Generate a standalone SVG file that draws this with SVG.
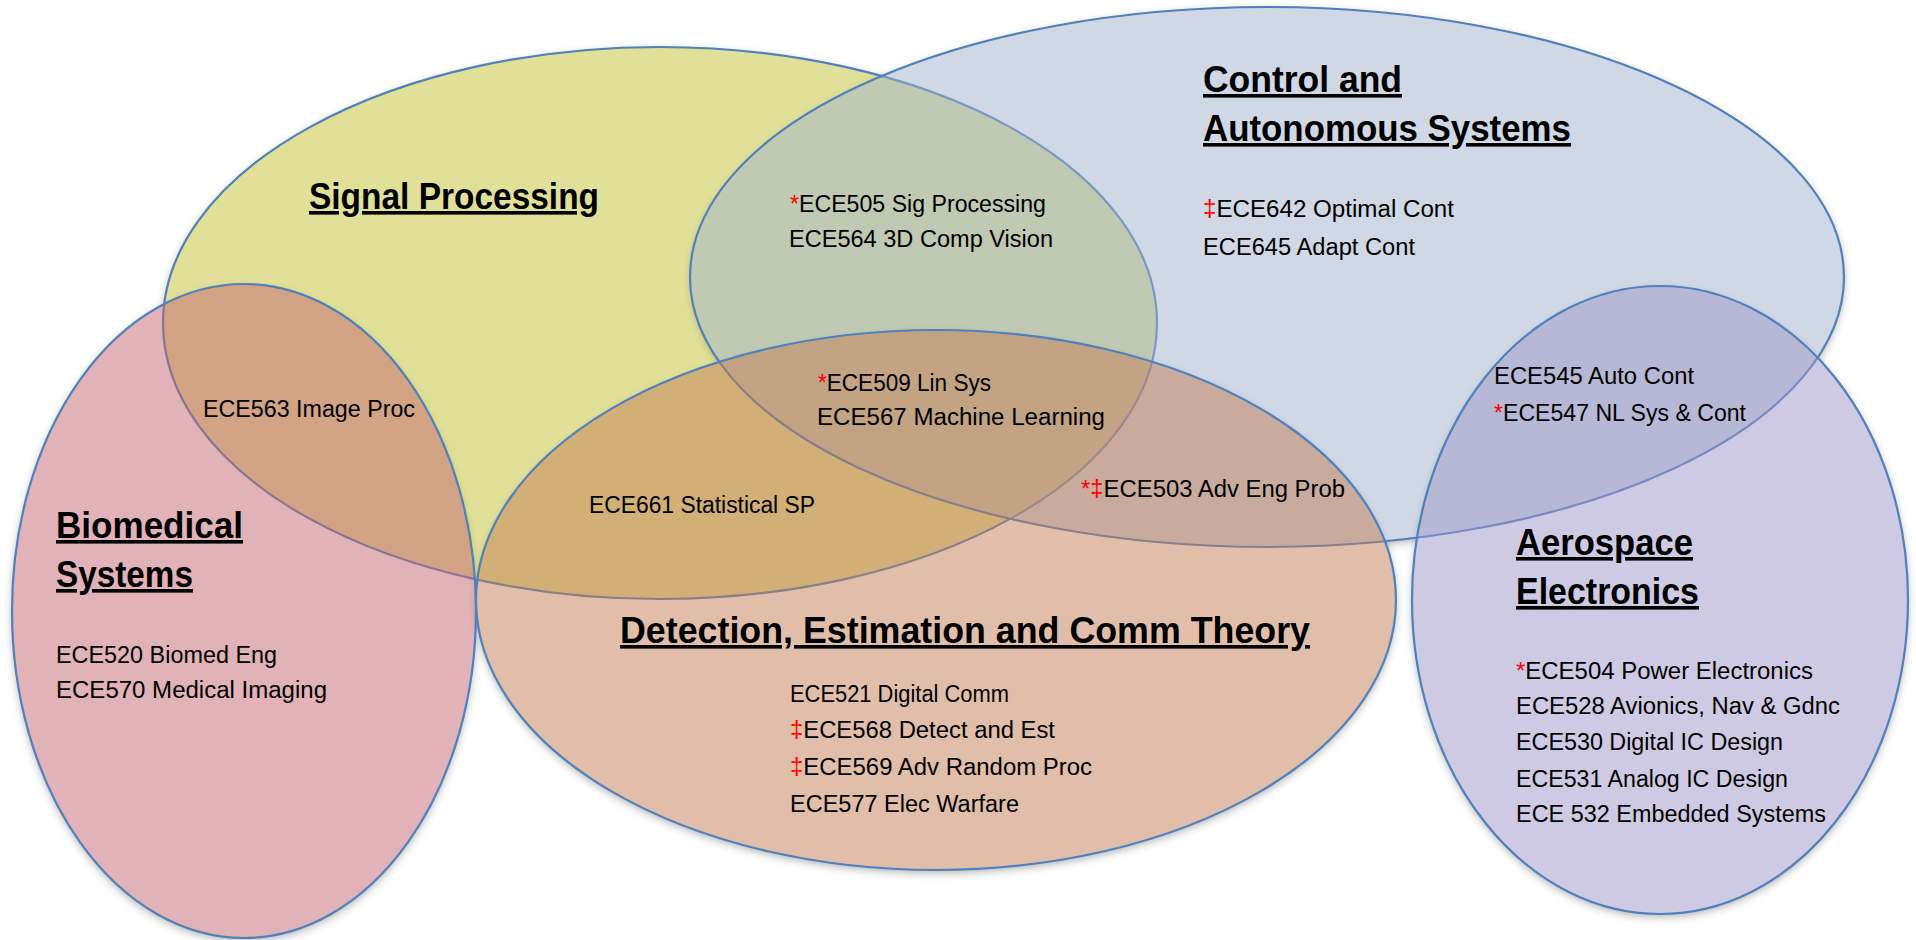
<svg xmlns="http://www.w3.org/2000/svg" width="1916" height="940" viewBox="0 0 1916 940">
  <defs>
    <filter id="soft-shadow" x="-10%" y="-10%" width="120%" height="125%">
      <feDropShadow dx="0" dy="3" stdDeviation="4" flood-color="#000000" flood-opacity="0.3"/>
    </filter>
    <style>
      .area { stroke: #4F81BD; stroke-width: 2.2; fill-opacity: 0.5; }
      .base { fill: #ffffff; stroke: none; filter: url(#soft-shadow); }
      .title { font-family: "Liberation Sans", Arial, sans-serif; font-weight: bold; font-size: 36px; fill: #000000; text-decoration: underline; }
      .item { font-family: "Liberation Sans", Arial, sans-serif; font-size: 23px; fill: #000000; }
      .mark { fill: #FF0000; }
    </style>
  </defs>

  <rect x="0" y="0" width="1916" height="940" fill="#ffffff"/>

  <!-- white bases carrying the soft outer shadow -->
  <g id="shadows">
    <ellipse class="base" cx="660" cy="323" rx="497" ry="276"/>
    <ellipse class="base" cx="1267" cy="277" rx="577" ry="270"/>
    <ellipse class="base" cx="244" cy="611" rx="232" ry="327"/>
    <ellipse class="base" cx="936" cy="600" rx="460" ry="270"/>
    <ellipse class="base" cx="1660" cy="600" rx="248" ry="314"/>
  </g>

  <!-- translucent topic areas, drawn bottom to top -->
  <g id="signal-processing">
    <ellipse class="area" cx="660" cy="323" rx="497" ry="276" fill="#C3C131"/>
  </g>
  <g id="control-autonomous">
    <ellipse class="area" cx="1267" cy="277" rx="577" ry="270" fill="#9FB1C9"/>
  </g>
  <g id="biomedical">
    <ellipse class="area" cx="244" cy="611" rx="232" ry="327" fill="#C3656F"/>
  </g>
  <g id="detection-estimation">
    <ellipse class="area" cx="936" cy="600" rx="460" ry="270" fill="#C37D55"/>
  </g>
  <g id="aerospace">
    <ellipse class="area" cx="1660" cy="600" rx="248" ry="314" fill="#9F95C7"/>
  </g>

  <!-- headings -->
  <g id="titles">
    <text class="title" x="309" y="209" textLength="290" lengthAdjust="spacingAndGlyphs">Signal Processing</text>
    <text class="title" x="1203" y="92" textLength="199" lengthAdjust="spacingAndGlyphs">Control and</text>
    <text class="title" x="1203" y="141" textLength="368" lengthAdjust="spacingAndGlyphs">Autonomous Systems</text>
    <text class="title" x="56" y="538" textLength="187" lengthAdjust="spacingAndGlyphs">Biomedical</text>
    <text class="title" x="56" y="587" textLength="137" lengthAdjust="spacingAndGlyphs">Systems</text>
    <text class="title" x="620" y="643" textLength="690" lengthAdjust="spacingAndGlyphs">Detection, Estimation and Comm Theory</text>
    <text class="title" x="1516" y="555" textLength="177" lengthAdjust="spacingAndGlyphs">Aerospace</text>
    <text class="title" x="1516" y="604" textLength="183" lengthAdjust="spacingAndGlyphs">Electronics</text>
  </g>

  <!-- course lists -->
  <g id="courses-signal-control">
    <text class="item" x="790" y="212" textLength="256" lengthAdjust="spacingAndGlyphs"><tspan class="mark">*</tspan>ECE505 Sig Processing</text>
    <text class="item" x="789" y="247" textLength="264" lengthAdjust="spacingAndGlyphs">ECE564 3D Comp Vision</text>
  </g>
  <g id="courses-signal-control-detection">
    <text class="item" x="818" y="391" textLength="173" lengthAdjust="spacingAndGlyphs"><tspan class="mark">*</tspan>ECE509 Lin Sys</text>
    <text class="item" x="817" y="425" textLength="288" lengthAdjust="spacingAndGlyphs">ECE567 Machine Learning</text>
  </g>
  <g id="courses-signal-biomedical">
    <text class="item" x="203" y="417" textLength="212" lengthAdjust="spacingAndGlyphs">ECE563 Image Proc</text>
  </g>
  <g id="courses-signal-detection">
    <text class="item" x="589" y="513" textLength="226" lengthAdjust="spacingAndGlyphs">ECE661 Statistical SP</text>
  </g>
  <g id="courses-control-detection">
    <text class="item" x="1081" y="497" textLength="264" lengthAdjust="spacingAndGlyphs"><tspan class="mark">*‡</tspan>ECE503 Adv Eng Prob</text>
  </g>
  <g id="courses-control">
    <text class="item" x="1203" y="217" textLength="251" lengthAdjust="spacingAndGlyphs"><tspan class="mark">‡</tspan>ECE642 Optimal Cont</text>
    <text class="item" x="1203" y="255" textLength="212" lengthAdjust="spacingAndGlyphs">ECE645 Adapt Cont</text>
  </g>
  <g id="courses-control-aerospace">
    <text class="item" x="1494" y="384" textLength="200" lengthAdjust="spacingAndGlyphs">ECE545 Auto Cont</text>
    <text class="item" x="1494" y="421" textLength="252" lengthAdjust="spacingAndGlyphs"><tspan class="mark">*</tspan>ECE547 NL Sys &amp; Cont</text>
  </g>
  <g id="courses-biomedical">
    <text class="item" x="56" y="663" textLength="221" lengthAdjust="spacingAndGlyphs">ECE520 Biomed Eng</text>
    <text class="item" x="56" y="698" textLength="271" lengthAdjust="spacingAndGlyphs">ECE570 Medical Imaging</text>
  </g>
  <g id="courses-detection">
    <text class="item" x="790" y="702" textLength="219" lengthAdjust="spacingAndGlyphs">ECE521 Digital Comm</text>
    <text class="item" x="790" y="738" textLength="265" lengthAdjust="spacingAndGlyphs"><tspan class="mark">‡</tspan>ECE568 Detect and Est</text>
    <text class="item" x="790" y="775" textLength="302" lengthAdjust="spacingAndGlyphs"><tspan class="mark">‡</tspan>ECE569 Adv Random Proc</text>
    <text class="item" x="790" y="812" textLength="229" lengthAdjust="spacingAndGlyphs">ECE577 Elec Warfare</text>
  </g>
  <g id="courses-aerospace">
    <text class="item" x="1516" y="679" textLength="297" lengthAdjust="spacingAndGlyphs"><tspan class="mark">*</tspan>ECE504 Power Electronics</text>
    <text class="item" x="1516" y="714" textLength="324" lengthAdjust="spacingAndGlyphs">ECE528 Avionics, Nav &amp; Gdnc</text>
    <text class="item" x="1516" y="750" textLength="267" lengthAdjust="spacingAndGlyphs">ECE530 Digital IC Design</text>
    <text class="item" x="1516" y="787" textLength="272" lengthAdjust="spacingAndGlyphs">ECE531 Analog IC Design</text>
    <text class="item" x="1516" y="822" textLength="310" lengthAdjust="spacingAndGlyphs">ECE 532 Embedded Systems</text>
  </g>
</svg>
